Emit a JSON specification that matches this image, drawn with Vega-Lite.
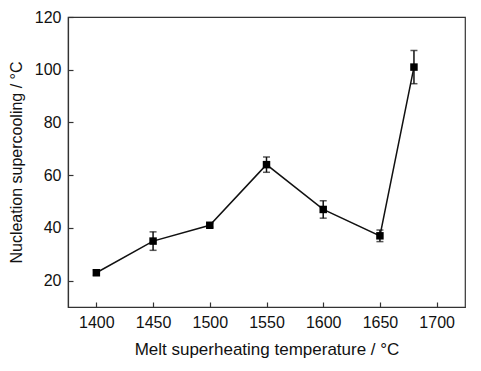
{
  "$schema": "https://vega.github.io/schema/vega-lite/v6.json",
  "width": 397,
  "height": 290,
  "autosize": "none",
  "padding": {"left": 68, "top": 17, "right": 16, "bottom": 64},
  "config": {
    "view": {"stroke": "#333333", "strokeWidth": 1.2},
    "font": "Liberation Sans",
    "axis": {
      "domainColor": "#333333",
      "domainWidth": 1.2,
      "tickColor": "#333333",
      "tickWidth": 1.2,
      "tickSize": -5,
      "labelFontSize": 16,
      "labelColor": "#111111",
      "titleFontSize": 16,
      "titleFontWeight": "normal",
      "titleColor": "#111111",
      "grid": false,
      "labelFont": "Liberation Sans",
      "titleFont": "Liberation Sans"
    }
  },
  "data": {
    "values": [
      {"t": 1400, "v": 23, "e": 1.0},
      {"t": 1450, "v": 35, "e": 3.5},
      {"t": 1500, "v": 41, "e": 0.7},
      {"t": 1550, "v": 64, "e": 2.9},
      {"t": 1600, "v": 47, "e": 3.3},
      {"t": 1650, "v": 37, "e": 2.2},
      {"t": 1680, "v": 101, "e": 6.3}
    ]
  },
  "transform": [
    {"calculate": "datum.v - datum.e", "as": "lo"},
    {"calculate": "datum.v + datum.e", "as": "hi"}
  ],
  "encoding": {
    "x": {
      "field": "t",
      "type": "quantitative",
      "scale": {"domain": [1375, 1725], "nice": false, "zero": false},
      "axis": {"values": [1400, 1450, 1500, 1550, 1600, 1650, 1700], "format": "d", "title": "Melt superheating temperature / °C", "titleFontSize": 17, "labelPadding": 12, "titlePadding": 11}
    }
  },
  "layer": [
    {
      "mark": {"type": "line", "color": "#111111", "strokeWidth": 1.5},
      "encoding": {
        "y": {
          "field": "v",
          "type": "quantitative",
          "scale": {"domain": [10, 120], "nice": false, "zero": false},
          "axis": {"values": [20, 40, 60, 80, 100, 120], "format": "d", "title": "Nucleation supercooling / °C", "labelPadding": 12, "titlePadding": 10}
        }
      }
    },
    {
      "mark": {"type": "rule", "color": "#111111", "strokeWidth": 1.5},
      "encoding": {"y": {"field": "lo", "type": "quantitative"}, "y2": {"field": "hi"}}
    },
    {
      "mark": {"type": "tick", "orient": "horizontal", "color": "#111111", "size": 7, "thickness": 1.5},
      "encoding": {"y": {"field": "lo", "type": "quantitative"}}
    },
    {
      "mark": {"type": "tick", "orient": "horizontal", "color": "#111111", "size": 7, "thickness": 1.5},
      "encoding": {"y": {"field": "hi", "type": "quantitative"}}
    },
    {
      "mark": {"type": "point", "shape": "square", "filled": true, "color": "#000000", "size": 56, "opacity": 1},
      "encoding": {"y": {"field": "v", "type": "quantitative"}}
    }
  ]
}
